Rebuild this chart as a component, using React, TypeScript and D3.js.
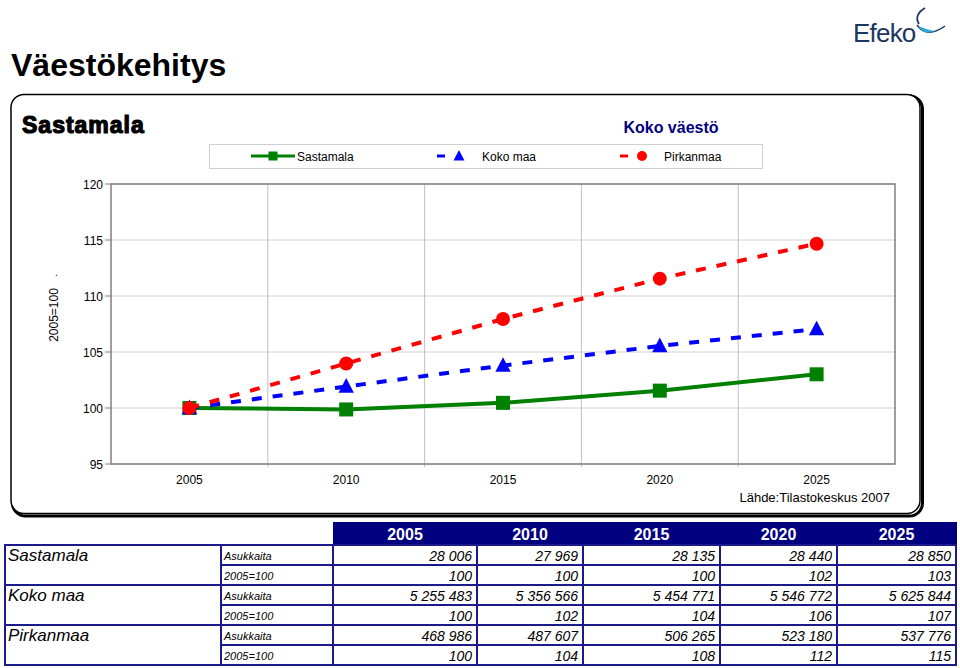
import React from "react";
import * as d3 from "d3";

const years = ["2005", "2010", "2015", "2020", "2025"];
const yTicks = [95, 100, 105, 110, 115, 120];
const sastamalaIdx = [100, 99.87, 100.46, 101.55, 103.01];
const kokoMaaIdx = [100, 101.92, 103.79, 105.54, 107.05];
const pirkanmaaIdx = [100, 103.97, 107.95, 111.55, 114.67];

const sastamalaPop = ["28 006", "27 969", "28 135", "28 440", "28 850"];
const sastamalaTbl = ["100", "100", "100", "102", "103"];
const kokoMaaPop = ["5 255 483", "5 356 566", "5 454 771", "5 546 772", "5 625 844"];
const kokoMaaTbl = ["100", "102", "104", "106", "107"];
const pirkanmaaPop = ["468 986", "487 607", "506 265", "523 180", "537 776"];
const pirkanmaaTbl = ["100", "104", "108", "112", "115"];

const FONT = "'Liberation Sans', Arial, sans-serif";

export default function App() {
  const W = 960, H = 668;
  const plot = { x0: 111, x1: 895, y0: 184, y1: 464 };
  const x = d3.scaleBand<string>().domain(years).range([plot.x0, plot.x1]);
  const cx = (d: string) => (x(d) as number) + x.bandwidth() / 2;
  const y = d3.scaleLinear().domain([95, 120]).range([plot.y1, plot.y0]);
  const line = d3.line<number>().x((_, i) => cx(years[i])).y((v) => y(v));

  const series = [
    { name: "Sastamala", vals: sastamalaIdx, color: "#008000", dash: "", marker: "square" },
    { name: "Koko maa", vals: kokoMaaIdx, color: "#0000ff", dash: "10,11", marker: "tri" },
    { name: "Pirkanmaa", vals: pirkanmaaIdx, color: "#ff0000", dash: "10,11", marker: "circle" },
  ];

  const marker = (type: string, px: number, py: number, color: string, s: number, key?: any) => {
    if (type === "square")
      return <rect key={key} x={px - s / 2} y={py - s / 2} width={s} height={s} fill={color} />;
    if (type === "tri") {
      const p = d3.path();
      p.moveTo(px, py - s * 0.6);
      p.lineTo(px + s * 0.55, py + s * 0.45);
      p.lineTo(px - s * 0.55, py + s * 0.45);
      p.closePath();
      return <path key={key} d={p.toString()} fill={color} />;
    }
    return <circle key={key} cx={px} cy={py} r={s / 2} fill={color} />;
  };

  const colEdges = [333, 477, 583, 720, 837, 956];
  const rowTop = 545, rowH = 20;
  const rows = [
    { label: "Sastamala", sub: "Asukkaita", vals: sastamalaPop },
    { label: "", sub: "2005=100", vals: sastamalaTbl },
    { label: "Koko maa", sub: "Asukkaita", vals: kokoMaaPop },
    { label: "", sub: "2005=100", vals: kokoMaaTbl },
    { label: "Pirkanmaa", sub: "Asukkaita", vals: pirkanmaaPop },
    { label: "", sub: "2005=100", vals: pirkanmaaTbl },
  ];
  const navy = "#000080";
  const border = "#1a1a8c";

  return (
    <svg width={W} height={H} style={{ position: "absolute", left: 0, top: 0, fontFamily: FONT }}>
      <rect x={0} y={0} width={W} height={H} fill="#fff" />
      <text x={11} y={76} fontSize={32} fontWeight="bold" fill="#000">Väestökehitys</text>

      {/* Logo */}
      <text x={853} y={42} fontSize={26} fill="#1c3563" letterSpacing={-0.8}>Efeko</text>
      <path d="M925,8 C918,12 915,18 919,24" fill="none" stroke="#1c3563" strokeWidth={1.8} />
      <path d="M917,25 C924,35 934,34 945,26" fill="none" stroke="#1c3563" strokeWidth={1.5} />
      <path d="M918,26 C922,33 929,34 934,31 C929,30 923,28 918,26 Z" fill="#2aa6d6" />

      {/* Chart box with shadow */}
      <rect x={12.5} y={96} width={910} height={420} rx={13} fill="none" stroke="#000" strokeWidth={3} />
      <rect x={11} y={94.5} width={909} height={419} rx={13} fill="#fff" stroke="#000" strokeWidth={1.5} />

      <text x={22} y={133} fontSize={23} fontWeight={900} fill="#000" stroke="#000" strokeWidth={1.2} letterSpacing={1}>Sastamala</text>
      <text x={671} y={133} fontSize={16} fontWeight="bold" fill={navy} textAnchor="middle">Koko väestö</text>

      {/* Legend */}
      <rect x={209.5} y={144.5} width={553} height={24} fill="#fff" stroke="#cfcfcf" strokeWidth={1} />
      <line x1={251} x2={295} y1={156} y2={156} stroke="#008000" strokeWidth={3} />
      {marker("square", 273, 156, "#008000", 9)}
      <text x={297} y={160.5} fontSize={12} fill="#000">Sastamala</text>
      <line x1={437} x2={445} y1={156} y2={156} stroke="#0000ff" strokeWidth={3} />
      {marker("tri", 459, 156, "#0000ff", 10)}
      <text x={482} y={160.5} fontSize={12} fill="#000">Koko maa</text>
      <line x1={620} x2={628} y1={156} y2={156} stroke="#ff0000" strokeWidth={3} />
      {marker("circle", 642, 156, "#ff0000", 10)}
      <text x={664} y={160.5} fontSize={12} fill="#000">Pirkanmaa</text>

      {/* Plot area */}
      <g>
        {yTicks.map((t) => (
          <g key={"y" + t}>
            <line x1={plot.x0} x2={plot.x1} y1={y(t)} y2={y(t)} stroke="#d0d0d0" strokeWidth={1} />
            <line x1={plot.x0 - 6} x2={plot.x0} y1={y(t)} y2={y(t)} stroke="#808080" strokeWidth={1} />
            <text x={103} y={y(t) + 4.5} fontSize={12} textAnchor="end" fill="#000">{t}</text>
          </g>
        ))}
        {years.slice(1).map((yr) => (
          <line key={"g" + yr} x1={x(yr) as number} x2={x(yr) as number} y1={plot.y0} y2={plot.y1 + 3} stroke="#c0c0c0" strokeWidth={1} />
        ))}
        <rect x={plot.x0} y={plot.y0} width={plot.x1 - plot.x0} height={plot.y1 - plot.y0} fill="none" stroke="#808080" strokeWidth={1.5} />
        {years.map((yr) => (
          <text key={"x" + yr} x={cx(yr)} y={484} fontSize={12} textAnchor="middle" fill="#000">{yr}</text>
        ))}
        <text transform="translate(58,315) rotate(-90)" fontSize={12} textAnchor="middle" fill="#000">2005=100</text>
        <text x={55} y={276} fontSize={10} fill="#000">.</text>
        <text x={890} y={502} fontSize={13} textAnchor="end" fill="#000">Lähde:Tilastokeskus 2007</text>

        {series.map((s) => (
          <g key={s.name}>
            <path d={line(s.vals) as string} fill="none" stroke={s.color} strokeWidth={4} strokeDasharray={s.dash || undefined} />
            {s.vals.map((v, i) => marker(s.marker, cx(years[i]), y(v), s.color, 14, i))}
          </g>
        ))}
      </g>

      {/* Table */}
      <rect x={colEdges[0]} y={522} width={colEdges[5] - colEdges[0] + 1} height={23} fill={navy} />
      {years.map((yr, i) => (
        <text key={"h" + yr} x={(colEdges[i] + colEdges[i + 1]) / 2} y={540} fontSize={16} fontWeight="bold" fill="#fff" textAnchor="middle">{yr}</text>
      ))}
      {rows.map((r, ri) => {
        const top = rowTop + ri * rowH;
        return (
          <g key={"r" + ri}>
            {r.label && (
              <text x={8} y={top + 16} fontSize={17} fontStyle="italic" fill="#000">{r.label}</text>
            )}
            <text x={224} y={top + 15} fontSize={11} fontStyle="italic" fill="#000">{r.sub}</text>
            {r.vals.map((v, ci) => (
              <text key={ci} x={colEdges[ci + 1] - 5} y={top + 16} fontSize={14} fontStyle="italic" textAnchor="end" fill="#000">{v}</text>
            ))}
          </g>
        );
      })}
      <g stroke={border} strokeWidth={2} fill="none">
        <rect x={5} y={rowTop} width={951} height={rowH * 6} />
        {[1, 2, 3, 4, 5].map((k) => (
          <line key={"h" + k} x1={k % 2 === 0 ? 5 : 221} x2={956} y1={rowTop + k * rowH} y2={rowTop + k * rowH} />
        ))}
        {[221, ...colEdges.slice(0, 5)].map((cxx, k) => (
          <line key={"v" + k} x1={cxx} x2={cxx} y1={rowTop} y2={rowTop + rowH * 6} />
        ))}
      </g>
    </svg>
  );
}
